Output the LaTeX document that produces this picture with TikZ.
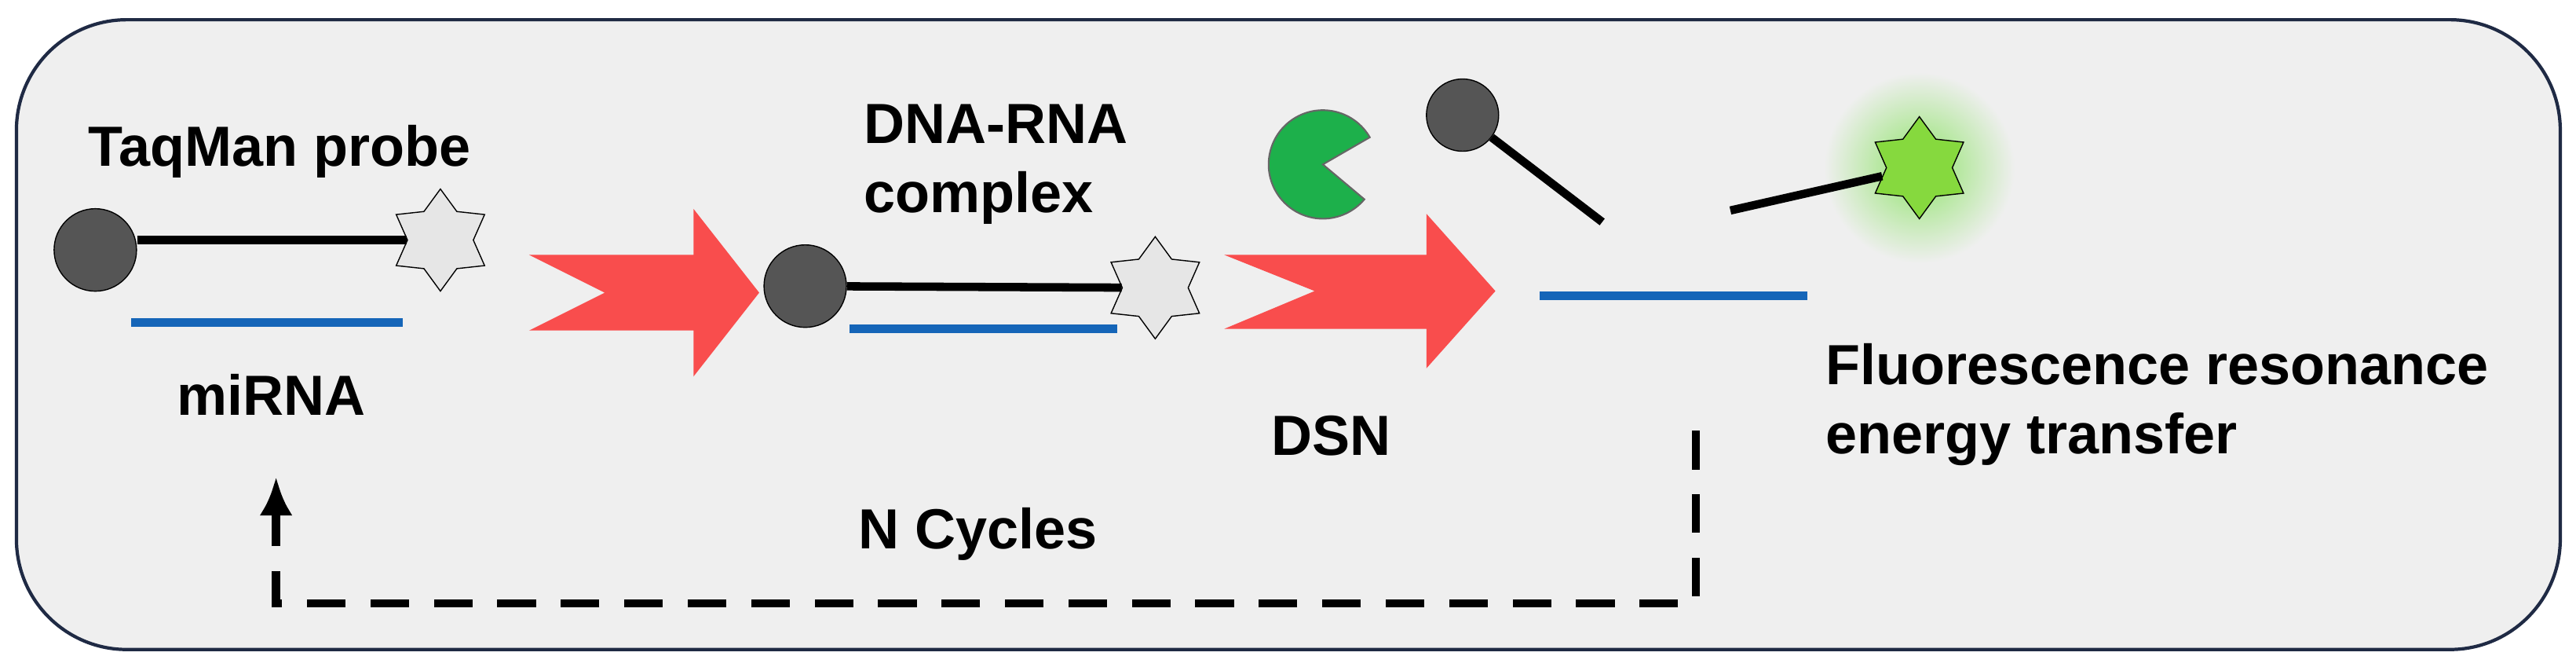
\documentclass[tikz,border=0pt]{standalone}
\usepackage{fontspec}
\setmainfont{Liberation Sans}
\usetikzlibrary{shapes.geometric,positioning,arrows.meta}
\definecolor{boxgray}{HTML}{EFEFEF}
\definecolor{boxline}{HTML}{1F2A44}
\definecolor{ballgray}{HTML}{555555}
\definecolor{strand}{HTML}{1565B8}
\definecolor{arrowred}{HTML}{F94D4D}
\definecolor{pacgreen}{HTML}{1DB04B}
\definecolor{glow}{HTML}{8FE36A}
\definecolor{dyegray}{HTML}{E6E6E6}
\definecolor{dyegreen}{HTML}{86D93E}
\tikzset{
  ball/.style={circle, draw=black, fill=ballgray, minimum size=#1, inner sep=0pt},
  dye/.style={star, star points=6, star point ratio=1.55, draw=black, fill=#1, minimum size=1.3cm, inner sep=0pt},
  label/.style={font=\bfseries\fontsize{20.5}{25}\selectfont, align=left},
  probe/.style={line width=3pt, black},
  rna/.style={line width=3pt, strand},
  bigarrow/.style={fill=arrowred, draw=none}
}
\begin{document}
\begin{tikzpicture}[x=0.02093cm, y=-0.02093cm]
  \useasboundingbox (0,0) rectangle (1567.6,405.2);
  \draw[fill=boxgray, draw=boxline, line width=1.2pt, rounded corners=40] (10,12) rectangle (1558,395);

  % probe and target
  \node[ball=1.05cm] (ball-1) at (58,152) {};
  \node[dye=dyegray] (dye-1) at (268,146) {};
  \draw[probe] (ball-1.east |- dye-1) -- (dye-1);
  \coordinate (mi-a) at (80,196); \coordinate (mi-b) at (245,196);
  \draw[rna] (mi-a) -- (mi-b);
  \node[label] (taqman) at (170,92) {TaqMan probe};
  \node[label] (mirna) at (165,240) {miRNA};

  % hybridisation
  \fill[bigarrow] (322,155) -- (422,155) -- (422,127) -- (462,178) -- (422,229) -- (422,201) -- (322,201) -- (368,178) -- cycle;
  \node[ball=1.05cm] (ball-2) at (490,174) {};
  \node[dye=dyegray] (dye-2) at (703,175) {};
  \draw[probe] (ball-2) -- (dye-2);
  \coordinate (dr-a) at (517,200); \coordinate (dr-b) at (680,200);
  \draw[rna] (dr-a) -- (dr-b);
  \node[label, anchor=west] (complex) at (520,100) {DNA-RNA\\complex};

  % cleavage
  \fill[bigarrow] (745,155) -- (868,155) -- (868,130) -- (910,177) -- (868,224) -- (868,200) -- (745,200) -- (800,177) -- cycle;
  \fill[pacgreen, draw=black!60, line width=0.6pt] (805,100) -- ++(-30:33) arc[start angle=-30, end angle=-320, radius=33] -- cycle;
  \node[label] (dsn) at (810,265) {DSN};

  % released fragments
  \node[ball=0.92cm] (ball-3) at (890,70) {};
  \coordinate (cut-a) at (975,135);
  \draw[probe] (ball-3) -- (cut-a);
  \coordinate (fr-a) at (937,180); \coordinate (fr-b) at (1100,180);
  \draw[rna] (fr-a) -- (fr-b);
  \shade[inner color=glow, outer color=boxgray] (1168,102) circle (58);
  \node[dye=dyegreen] (dye-3) at (1168,102) {};
  \coordinate (cut-b) at (1053,128);
  \draw[probe] (cut-b) -- (dye-3);
  \node[label, anchor=west] (fret) at (1105,246) {Fluorescence resonance\\energy transfer};

  % recycling
  \node[label] (cycles) at (595,325) {N Cycles};
  \coordinate (loop-a) at (1032,262); \coordinate (loop-b) at (168,290);
  \draw[line width=3pt, dash pattern=on 14pt off 9pt, -{Latex[length=14pt,width=12pt]}] (loop-a) |- (168,367) -- (loop-b);
\end{tikzpicture}
\end{document}
